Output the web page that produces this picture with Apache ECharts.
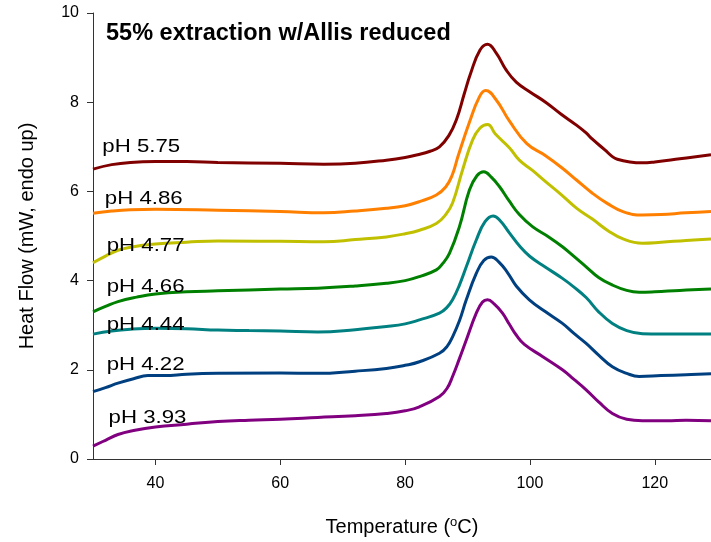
<!DOCTYPE html>
<html>
<head>
<meta charset="utf-8">
<script src="https://cdn.jsdelivr.net/npm/echarts@6/dist/echarts.min.js"></script>
<style>html,body{margin:0;padding:0;background:#fff}#c{width:711px;height:542px}</style>
</head>
<body>
<div id="c"></div>
<script>
// ---- data (temperature °C, heat flow mW) ----
const t575 = [30,33,36,40,45,50,60,67,72,77,80,82,84,85.5,87,88.2,89.5,90.5,92,93.2,94.6,96.2,97.8,100,102.5,105,107.5,109,110,112,113.2,114,116,118,120,124,129];
const hf575 = [6.50,6.60,6.65,6.67,6.67,6.65,6.63,6.61,6.63,6.70,6.76,6.82,6.90,7.0,7.25,7.6,8.2,8.65,9.17,9.30,9.10,8.72,8.45,8.23,8.0,7.73,7.48,7.31,7.17,6.93,6.78,6.72,6.66,6.64,6.66,6.73,6.82];

const t486 = [30,33,36,40,50,60,67,72,77,80,82.3,85,86.5,87.5,88.5,90.3,91.9,92.9,94.6,96.7,99.5,102.5,105.2,107.5,110,112.5,115,118,121,125,129];
const hf486 = [5.51,5.56,5.59,5.60,5.58,5.55,5.52,5.56,5.62,5.68,5.77,5.92,6.1,6.35,6.8,7.55,8.12,8.26,8.05,7.58,7.07,6.8,6.52,6.25,5.96,5.72,5.54,5.47,5.48,5.52,5.55];

const t477 = [30,32,34,36,40,45,50,60,67,72,77,80,82.3,85,86.5,87.6,89.2,90.8,92,93.2,94.5,96.7,98.3,100.4,102.5,105,107.5,110,112.5,115,118,121,125,129];
const hf477 = [4.40,4.55,4.68,4.75,4.82,4.86,4.89,4.88,4.87,4.92,4.98,5.05,5.13,5.28,5.48,5.74,6.48,7.15,7.42,7.50,7.28,6.98,6.70,6.47,6.22,5.93,5.62,5.38,5.12,4.93,4.84,4.86,4.90,4.93];

const t466 = [30,32,34,37,40,45,50,60,66,72,77,80,82.3,85,86,87.1,88.7,90.3,91.5,92.6,93.8,95.1,96.7,98.3,100.4,103,105.2,107,109,111,113.2,115.5,117.5,120,124,129];
const hf466 = [3.30,3.42,3.53,3.63,3.70,3.75,3.77,3.81,3.83,3.88,3.94,4.00,4.09,4.24,4.38,4.61,5.21,6.03,6.35,6.44,6.32,6.11,5.78,5.48,5.21,4.98,4.76,4.55,4.31,4.07,3.90,3.78,3.74,3.75,3.78,3.81];

const t444 = [30,33,36,40,45,50,55,60,66,72,77,80,82.3,85.5,86.7,87.6,88.7,89.8,91.4,92.8,94.1,95.3,96.7,98.3,100,102.5,105.2,107,109,111,113.2,115.5,118,121,125,129];
const hf444 = [2.80,2.87,2.91,2.93,2.92,2.89,2.88,2.87,2.85,2.90,2.97,3.03,3.12,3.27,3.40,3.57,3.90,4.31,4.91,5.32,5.45,5.33,5.07,4.78,4.54,4.30,4.05,3.86,3.62,3.30,3.04,2.88,2.81,2.80,2.80,2.80];

const t422 = [30,32,34,36.5,38.8,41.5,45,50,60,66,72,77,80,82.3,85.5,86.7,87.6,88.7,89.8,91.4,92.6,93.8,95,96.4,97.8,99.9,102.5,105.2,107,109,111,113.2,115.5,117.5,121,125,129];
const hf422 = [1.51,1.60,1.70,1.80,1.87,1.87,1.90,1.92,1.93,1.92,1.97,2.03,2.10,2.18,2.37,2.52,2.74,3.10,3.57,4.16,4.45,4.53,4.42,4.18,3.88,3.57,3.30,3.04,2.82,2.59,2.33,2.07,1.92,1.85,1.87,1.89,1.91];

const t393 = [30,32,34,36.5,40,45,50,55,60,66,72,77,80,82.3,85.5,86.7,87.6,88.7,89.8,91.4,92.4,93.2,94.3,95.6,96.7,97.8,99.1,102,105.2,107,109,111,113.2,115.5,118,122,125,129];
const hf393 = [0.29,0.42,0.55,0.64,0.72,0.78,0.84,0.87,0.89,0.93,0.97,1.02,1.08,1.17,1.40,1.58,1.85,2.25,2.67,3.27,3.52,3.57,3.47,3.27,3.02,2.78,2.57,2.30,2.00,1.79,1.55,1.28,1.02,0.89,0.86,0.86,0.87,0.86];

const seriesNames = ['pH 5.75','pH 4.86','pH 4.77','pH 4.66','pH 4.44','pH 4.22','pH 3.93'];
const temps = [t575,t486,t477,t466,t444,t422,t393];
const flows = [hf575,hf486,hf477,hf466,hf444,hf422,hf393];
const xTicks = [40,60,80,100,120];
const yTicks = [0,2,4,6,8,10];
// label anchors (data coords)
const labelT = [31.5,31.9,32.2,32.2,32.2,32.2,32.5];
const labelHF = [7.00,5.84,4.79,3.86,3.00,2.12,0.93];

const colors = ['#800000','#FF8000','#C0C000','#008000','#008080','#004080','#800080'];
const FONT = '"Liberation Sans", Arial, sans-serif';

const chart = echarts.init(document.getElementById('c'), null, {renderer:'canvas'});

const series = seriesNames.map((n,i)=>({
  name:n, type:'line', showSymbol:false, symbol:'none',
  smooth:0.45,
  data: temps[i].map((t,j)=>[t, flows[i][j]]),
  lineStyle:{color:colors[i], width:3},
  itemStyle:{color:colors[i]},
  z:3
}));

chart.setOption({
  animation:false,
  backgroundColor:'#fff',
  title:{
    text:'55% extraction w/Allis reduced',
    left:106, top:22, padding:0,
    textStyle:{fontFamily:FONT, fontWeight:'bold', fontSize:23.5, color:'#000'}
  },
  grid:{left:93, right:0, top:13, bottom:83, containLabel:false},
  xAxis:[{
    type:'value', min:30, max:129,
    name:'Temperature ({sup|o}C)', nameLocation:'middle', nameGap:57,
    nameTextStyle:{fontFamily:FONT, fontSize:20, color:'#000',
      rich:{sup:{fontFamily:FONT, fontSize:13, color:'#000', padding:[0,0,9,0]}}},
    axisLine:{show:true, onZero:false, lineStyle:{color:'#333', width:1}},
    axisTick:{show:true, length:6, customValues:xTicks, lineStyle:{color:'#333'}},
    axisLabel:{customValues:xTicks, margin:17, fontFamily:FONT, fontSize:16, color:'#000'},
    splitLine:{show:false}
  },{
    type:'value', position:'top', min:30, max:129,
    axisLine:{show:true, lineStyle:{color:'#333', width:1}},
    axisTick:{show:false}, axisLabel:{show:false}, splitLine:{show:false}
  }],
  yAxis:{
    type:'value', min:0, max:10, interval:2,
    name:'Heat Flow (mW, endo up)', nameLocation:'middle', nameGap:56, nameRotate:90,
    nameTextStyle:{fontFamily:FONT, fontSize:20, color:'#000'},
    axisLine:{show:true, lineStyle:{color:'#333', width:1}},
    axisTick:{show:true, length:6, lineStyle:{color:'#333'}},
    axisLabel:{margin:14, fontFamily:FONT, fontSize:16, color:'#000',
      customValues: yTicks},
    splitLine:{show:false}
  },
  series: series
});

const gfx = seriesNames.map((n,i)=>{
  const p = chart.convertToPixel({gridIndex:0}, [labelT[i], labelHF[i]]);
  return {type:'text', x:p[0], y:p[1], scaleX:1.17, z:10,
    style:{text:n, x:0, y:0, fill:'#000', font:'19px ' + FONT, align:'left', verticalAlign:'middle'}};
});
chart.setOption({graphic: gfx});
</script>
</body>
</html>
